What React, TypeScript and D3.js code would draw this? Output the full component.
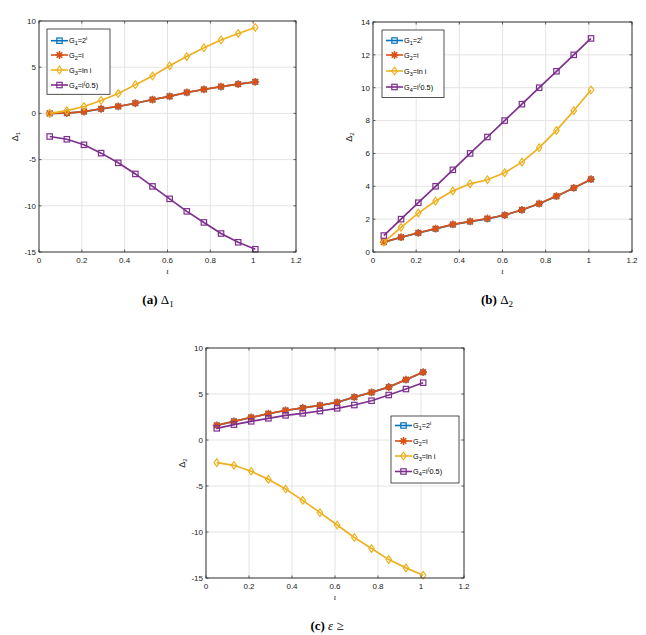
import React from "react";
import * as d3 from "d3";

const xs = [0.05, 0.13, 0.21, 0.29, 0.37, 0.45, 0.53, 0.61, 0.69, 0.77, 0.85, 0.93, 1.01];
const xTicks = [0, 0.2, 0.4, 0.6, 0.8, 1, 1.2];

// Panel (a) Δ1
const aG1 = [0, 0.03, 0.2, 0.49, 0.75, 1.1, 1.49, 1.85, 2.26, 2.59, 2.89, 3.16, 3.42];
const aG2 = [0, 0.03, 0.2, 0.5, 0.76, 1.1, 1.5, 1.85, 2.27, 2.6, 2.9, 3.17, 3.42];
const aG3 = [0, 0.3, 0.75, 1.4, 2.15, 3.1, 4.05, 5.15, 6.15, 7.1, 7.95, 8.65, 9.3];
const aG4 = [-2.5, -2.8, -3.4, -4.3, -5.35, -6.55, -7.9, -9.25, -10.6, -11.8, -13.0, -13.95, -14.7];
const aYTicks = [-15, -10, -5, 0, 5, 10];

// Panel (b) Δ2
const bG1 = [0.6, 0.89, 1.16, 1.41, 1.67, 1.85, 2.02, 2.24, 2.56, 2.94, 3.39, 3.89, 4.42];
const bG2 = [0.6, 0.9, 1.17, 1.42, 1.68, 1.86, 2.04, 2.25, 2.57, 2.95, 3.4, 3.9, 4.43];
const bG3 = [0.6, 1.5, 2.37, 3.1, 3.72, 4.15, 4.4, 4.82, 5.47, 6.35, 7.4, 8.6, 9.86];
const bG4 = [1.0, 2.0, 3.0, 4.0, 5.0, 6.0, 7.0, 8.0, 9.0, 10.0, 11.0, 12.0, 13.0];
const bYTicks = [0, 2, 4, 6, 8, 10, 12, 14];

// Panel (c)
const cG1 = [1.59, 2.02, 2.45, 2.85, 3.21, 3.49, 3.76, 4.09, 4.66, 5.17, 5.75, 6.55, 7.36];
const cG2 = [1.6, 2.03, 2.46, 2.86, 3.22, 3.5, 3.77, 4.1, 4.67, 5.18, 5.76, 6.56, 7.38];
const cG3 = [-2.46, -2.75, -3.4, -4.28, -5.33, -6.56, -7.9, -9.24, -10.6, -11.8, -13.0, -13.9, -14.7];
const cG4 = [1.27, 1.67, 2.03, 2.36, 2.68, 2.9, 3.15, 3.44, 3.8, 4.27, 4.89, 5.54, 6.23];
const cYTicks = [-15, -10, -5, 0, 5, 10];

const colors = ["#0072BD", "#D95319", "#EDB120", "#7E2F8E"];
const markers = ["squareSmall", "star", "diamond", "square"];

const SANS = "'Liberation Sans', Arial, Helvetica, sans-serif";
const SERIF = "'Liberation Serif', 'Times New Roman', 'DejaVu Serif', serif";

function Marker({ type, x, y, color }: { type: string; x: number; y: number; color: string }) {
  if (type === "square" || type === "squareSmall") {
    const s = type === "square" ? 2.7 : 2.3;
    return <rect x={x - s} y={y - s} width={2 * s} height={2 * s} fill="none" stroke={color} strokeWidth={1.2} />;
  }
  if (type === "diamond") {
    const s = 3.8;
    return (
      <path d={`M${x},${y - s}L${x + s * 0.72},${y}L${x},${y + s}L${x - s * 0.72},${y}Z`} fill="none" stroke={color} strokeWidth={1.2} />
    );
  }
  const s = 3.9;
  const d = s * 0.72;
  return (
    <path
      d={`M${x - s},${y}L${x + s},${y}M${x},${y - s}L${x},${y + s}M${x - d},${y - d}L${x + d},${y + d}M${x - d},${y + d}L${x + d},${y - d}`}
      stroke={color}
      strokeWidth={1.6}
    />
  );
}

function LegendLabel({ idx }: { idx: number }) {
  if (idx === 0)
    return (
      <>
        <tspan>G</tspan><tspan dy={2} fontSize={5.5}>1</tspan><tspan dy={-2}>=2</tspan><tspan dy={-3} fontSize={5.5}>i</tspan>
      </>
    );
  if (idx === 1)
    return (
      <>
        <tspan>G</tspan><tspan dy={2} fontSize={5.5}>2</tspan><tspan dy={-2}>=i</tspan>
      </>
    );
  if (idx === 2)
    return (
      <>
        <tspan>G</tspan><tspan dy={2} fontSize={5.5}>3</tspan><tspan dy={-2}>=ln i</tspan>
      </>
    );
  return (
    <>
      <tspan>G</tspan><tspan dy={2} fontSize={5.5}>4</tspan><tspan dy={-2}>=i</tspan><tspan dy={-3} fontSize={5.5}>(</tspan><tspan dy={3}>0.5)</tspan>
    </>
  );
}

type PanelProps = {
  left: number; right: number; top: number; bottom: number;
  yDomain: [number, number]; yTicks: number[];
  series: number[][];
  legend: { x: number; y: number; w: number; rows: number[] };
  ySub: string;
  caption: React.ReactNode;
  captionX: number; captionY: number;
};

function Panel(p: PanelProps) {
  const x = d3.scaleLinear().domain([0, 1.2]).range([p.left, p.right]);
  const y = d3.scaleLinear().domain(p.yDomain).range([p.bottom, p.top]);
  const line = d3.line<number>().x((_, i) => x(xs[i])).y((v) => y(v));
  const lg = p.legend;
  const lgH = lg.rows[3] - lg.rows[0] + 21;
  return (
    <g>
      <rect x={p.left} y={p.top} width={p.right - p.left} height={p.bottom - p.top} fill="#fff" />
      {xTicks.map((t) => (
        <line key={"gx" + t} x1={x(t)} x2={x(t)} y1={p.top} y2={p.bottom} stroke="#e1e1e1" strokeWidth={0.9} />
      ))}
      {p.yTicks.map((t) => (
        <line key={"gy" + t} x1={p.left} x2={p.right} y1={y(t)} y2={y(t)} stroke="#e1e1e1" strokeWidth={0.9} />
      ))}
      {p.series.map((s, k) => (
        <g key={"s" + k}>
          <path d={line(s) || ""} fill="none" stroke={colors[k]} strokeWidth={1.7} />
          {s.map((v, i) => (
            <Marker key={i} type={markers[k]} x={x(xs[i])} y={y(v)} color={colors[k]} />
          ))}
        </g>
      ))}
      <rect x={p.left} y={p.top} width={p.right - p.left} height={p.bottom - p.top} fill="none" stroke="#262626" strokeWidth={0.9} />
      {xTicks.map((t) => (
        <g key={"tx" + t}>
          <line x1={x(t)} x2={x(t)} y1={p.bottom} y2={p.bottom - 2.5} stroke="#262626" strokeWidth={0.7} />
          <line x1={x(t)} x2={x(t)} y1={p.top} y2={p.top + 2.5} stroke="#262626" strokeWidth={0.7} />
          <text x={x(t)} y={p.bottom + 10.5} textAnchor="middle" fontFamily={SANS} fontSize={8} fill="#222">
            {d3.format("~g")(t)}
          </text>
        </g>
      ))}
      {p.yTicks.map((t) => (
        <g key={"ty" + t}>
          <line x1={p.left} x2={p.left + 2.5} y1={y(t)} y2={y(t)} stroke="#262626" strokeWidth={0.7} />
          <line x1={p.right} x2={p.right - 2.5} y1={y(t)} y2={y(t)} stroke="#262626" strokeWidth={0.7} />
          <text x={p.left - 3} y={y(t) + 2.8} textAnchor="end" fontFamily={SANS} fontSize={8} fill="#222">
            {t}
          </text>
        </g>
      ))}
      <text x={(p.left + p.right) / 2} y={p.bottom + 22} textAnchor="middle" fontFamily={SERIF} fontStyle="italic" fontSize={8.5} fill="#262626">
        ι
      </text>
      <text
        transform={`translate(${p.left - 21},${(p.top + p.bottom) / 2}) rotate(-90)`}
        textAnchor="middle"
        fontFamily={SANS}
        fontSize={9}
        fill="#262626"
      >
        Δ<tspan dy={2} fontSize={6}>{p.ySub}</tspan>
      </text>
      <rect x={lg.x} y={lg.y} width={lg.w} height={lgH} fill="#fff" stroke="#262626" strokeWidth={0.8} />
      {lg.rows.map((ry, k) => (
        <g key={"lg" + k}>
          <line x1={lg.x + 4} x2={lg.x + 21} y1={ry} y2={ry} stroke={colors[k]} strokeWidth={1.6} />
          <Marker type={markers[k] === "squareSmall" ? "square" : markers[k]} x={lg.x + 12.5} y={ry} color={colors[k]} />
          <text x={lg.x + 22} y={ry + 2.6} fontFamily={SANS} fontSize={7.3} fill="#000">
            <LegendLabel idx={k} />
          </text>
        </g>
      ))}
      <text x={p.captionX} y={p.captionY} textAnchor="middle" fontFamily={SERIF} fontSize={13} fill="#000">
        {p.caption}
      </text>
    </g>
  );
}

export default function App() {
  return (
    <svg width={646} height={635} style={{ position: "absolute", left: 0, top: 0, background: "#fff" }}>
      <rect width={646} height={635} fill="#fff" />
      <Panel
        left={39} right={296} top={21} bottom={252}
        yDomain={[-15, 10]} yTicks={aYTicks}
        series={[aG1, aG2, aG3, aG4]}
        legend={{ x: 47, y: 29, w: 63, rows: [40.7, 55, 70, 85] }}
        ySub="1"
        caption={<><tspan fontWeight="bold">(a)</tspan> Δ<tspan dy={3} fontSize={9}>1</tspan></>}
        captionX={158} captionY={304}
      />
      <Panel
        left={373} right={632} top={22} bottom={252}
        yDomain={[0, 14]} yTicks={bYTicks}
        series={[bG1, bG2, bG3, bG4]}
        legend={{ x: 382, y: 30, w: 62, rows: [40.5, 55, 71, 87] }}
        ySub="2"
        caption={<><tspan fontWeight="bold">(b)</tspan> Δ<tspan dy={3} fontSize={9}>2</tspan></>}
        captionX={497} captionY={304}
      />
      <Panel
        left={206} right={464} top={348} bottom={578}
        yDomain={[-15, 10]} yTicks={cYTicks}
        series={[cG1, cG2, cG3, cG4]}
        legend={{ x: 391, y: 416, w: 68, rows: [425.5, 441, 456, 471.5] }}
        ySub="2"
        caption={<><tspan fontWeight="bold">(c)</tspan> <tspan fontStyle="italic">ε</tspan> ≥</>}
        captionX={327} captionY={630}
      />
    </svg>
  );
}
